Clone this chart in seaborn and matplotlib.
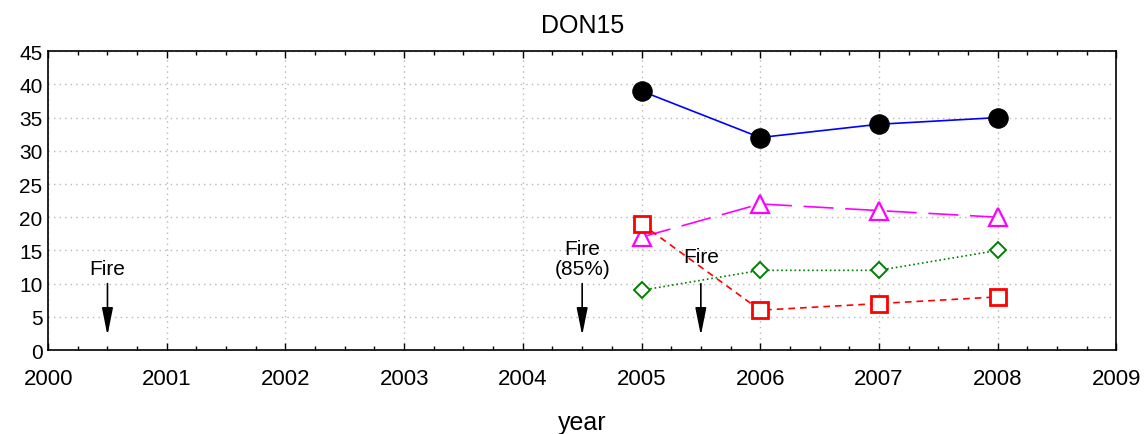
import matplotlib
matplotlib.use("Agg")
import matplotlib.pyplot as plt
import seaborn as sns
import pandas as pd
from matplotlib.ticker import MultipleLocator, FormatStrFormatter

years = [2005, 2006, 2007, 2008]
circles = [39, 32, 34, 35]
triangles = [17, 22, 21, 20]
diamonds = [9, 12, 12, 15]
squares = [19, 6, 7, 8]

fire_years = [2000.5, 2004.5, 2005.5]
fire_labels = ["Fire", "Fire\n(85%)", "Fire"]
fire_text_y = [10.8, 10.8, 12.6]

sns.set_theme(style="ticks")
plt.rcParams["font.family"] = ["Liberation Sans", "DejaVu Sans"]
plt.rcParams["text.color"] = "black"
plt.rcParams["axes.labelcolor"] = "black"
plt.rcParams["xtick.color"] = "black"
plt.rcParams["ytick.color"] = "black"

fig = plt.figure(figsize=(11.46, 4.35), dpi=100)
ax = fig.add_axes([0.042, 0.193, 0.932, 0.687])

series = [
    (circles, dict(color="blue", lw=1.2, ls="-", marker="o", markersize=14,
                   markerfacecolor="black", markeredgecolor="black")),
    (triangles, dict(color="magenta", lw=1.2, dashes=(18, 7), marker="^", markersize=13,
                     markerfacecolor="white", markeredgecolor="magenta", markeredgewidth=1.6)),
    (diamonds, dict(color="green", lw=1.2, ls=":", marker="D", markersize=8,
                    markerfacecolor="white", markeredgecolor="green", markeredgewidth=1.4)),
    (squares, dict(color="red", lw=1.2, dashes=(4, 3), marker="s", markersize=12,
                   markerfacecolor="white", markeredgecolor="red", markeredgewidth=2.0)),
]
for vals, style in series:
    df = pd.DataFrame({"year": years, "value": vals})
    sns.lineplot(data=df, x="year", y="value", ax=ax, **style, zorder=3)

for fx, lab, ty in zip(fire_years, fire_labels, fire_text_y):
    ax.text(fx, ty, lab, ha="center", va="bottom", fontsize=15, linespacing=1.1)
    ax.annotate("", xy=(fx, 2.2), xytext=(fx, 10.0),
                arrowprops=dict(arrowstyle="-|>,head_length=1.4,head_width=0.28",
                                color="black", lw=1.2, shrinkA=0, shrinkB=0))

ax.set_xlim(2000, 2009)
ax.set_ylim(0, 45)
ax.xaxis.set_major_locator(MultipleLocator(1))
ax.xaxis.set_minor_locator(MultipleLocator(0.25))
ax.yaxis.set_major_locator(MultipleLocator(5))
ax.xaxis.set_major_formatter(FormatStrFormatter("%d"))
ax.tick_params(which="both", direction="in", top=True, right=False,
               width=1.0, color="black", labelcolor="black")
ax.tick_params(which="major", length=5)
ax.tick_params(which="minor", length=3)
ax.tick_params(axis="x", pad=13, labelsize=16)
ax.tick_params(axis="y", length=0, pad=4, labelsize=15)
ax.grid(True, which="major", ls=(0, (1, 3)), color="#b8b8b8", lw=1.0)
for s in ax.spines.values():
    s.set_visible(True)
    s.set_color("black")
    s.set_linewidth(1.2)

ax.set_title("DON15", fontsize=18, pad=14, color="black")
ax.set_xlabel("year", fontsize=18, labelpad=15)
ax.set_ylabel("")

fig.savefig("out.png", dpi=100)
